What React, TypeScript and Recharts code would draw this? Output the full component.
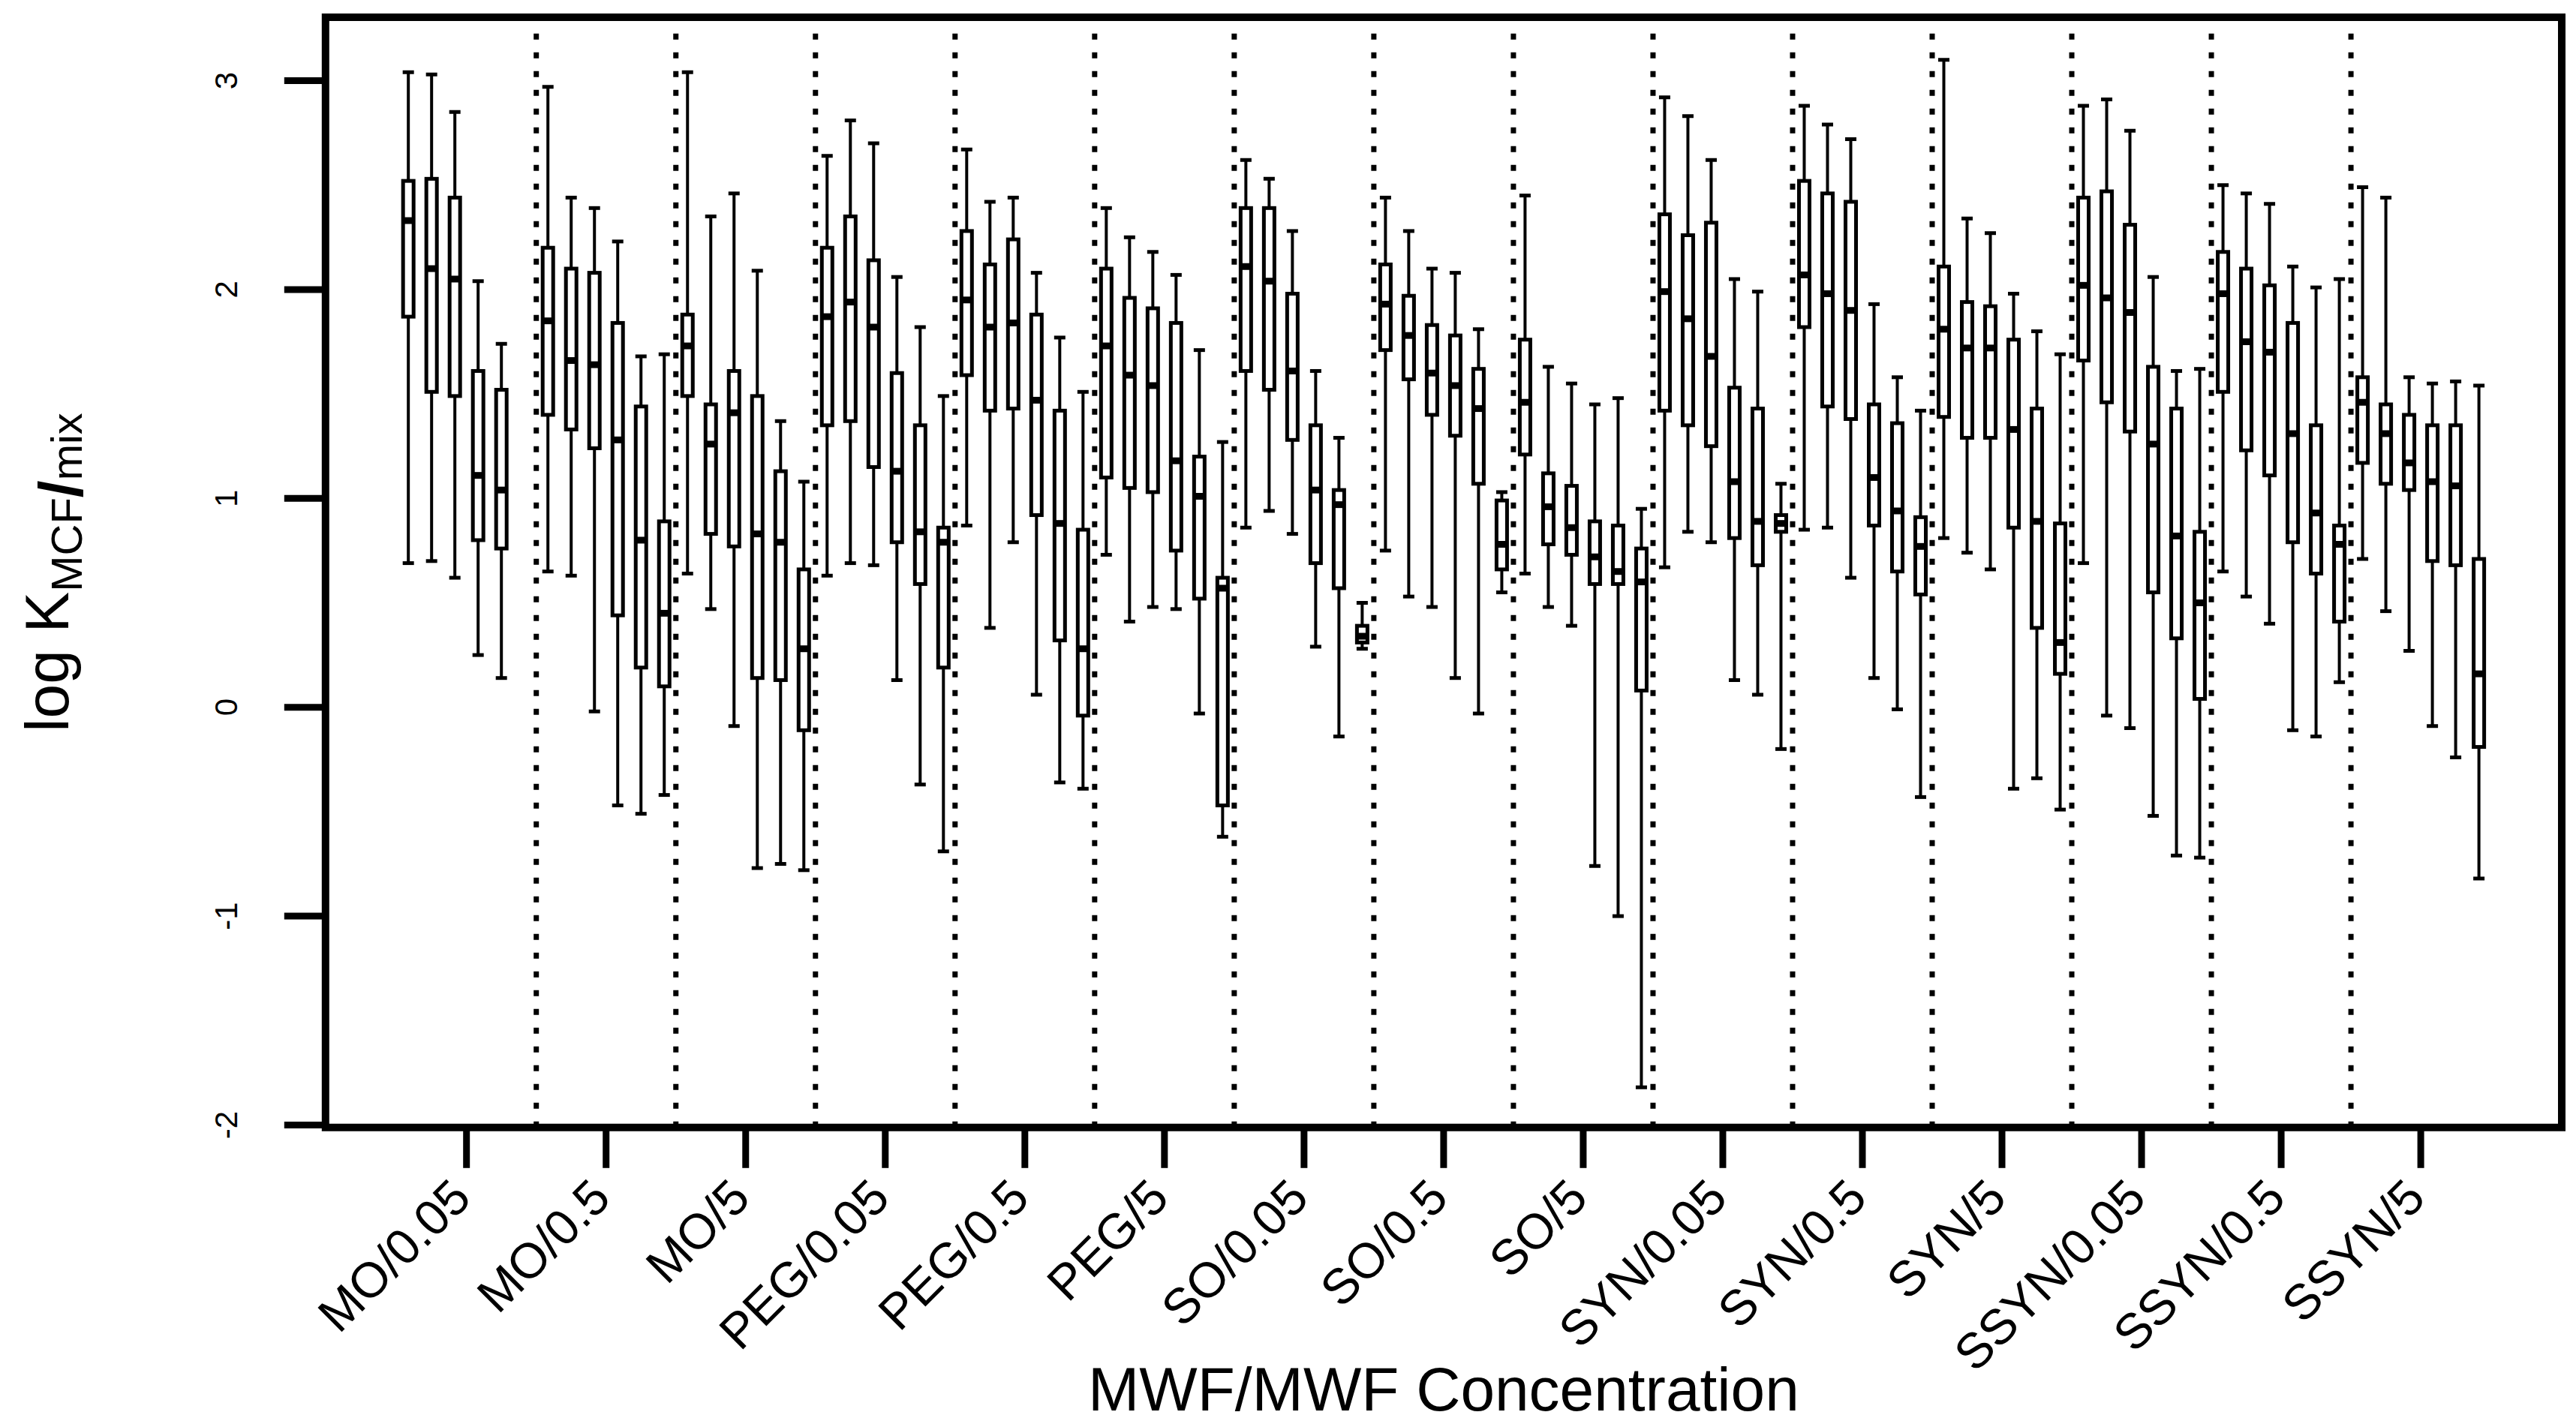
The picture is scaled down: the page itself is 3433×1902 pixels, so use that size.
import React from 'react';
import { ComposedChart, Bar, XAxis, YAxis, ReferenceLine, ReferenceArea } from 'recharts';

// ---- data -------------------------------------------------------------
const groups = [
  'MO/0.05', 'MO/0.5', 'MO/5',
  'PEG/0.05', 'PEG/0.5', 'PEG/5',
  'SO/0.05', 'SO/0.5', 'SO/5',
  'SYN/0.05', 'SYN/0.5', 'SYN/5',
  'SSYN/0.05', 'SSYN/0.5', 'SSYN/5',
];

// upper whisker end
const whiskerHigh: (number | null)[][] = [
  [3.04, 3.03, 2.85, 2.04, 1.74, null],
  [2.97, 2.44, 2.39, 2.23, 1.68, 1.69],
  [3.04, 2.35, 2.46, 2.09, 1.37, 1.08],
  [2.64, 2.81, 2.70, 2.06, 1.82, 1.49],
  [2.67, 2.42, 2.44, 2.08, 1.77, 1.51],
  [2.39, 2.25, 2.18, 2.07, 1.71, 1.27],
  [2.62, 2.53, 2.28, 1.61, 1.29, 0.50],
  [2.44, 2.28, 2.10, 2.08, 1.81, 1.03],
  [2.45, 1.63, 1.55, 1.45, 1.48, 0.95],
  [2.92, 2.83, 2.62, 2.05, 1.99, 1.07],
  [2.88, 2.79, 2.72, 1.93, 1.58, 1.42],
  [3.10, 2.34, 2.27, 1.98, 1.80, 1.69],
  [2.88, 2.91, 2.76, 2.06, 1.61, 1.62],
  [2.50, 2.46, 2.41, 2.11, 2.01, 2.05],
  [2.49, 2.44, 1.58, 1.55, 1.56, 1.54],
];

// upper quartile
const quartile3: (number | null)[][] = [
  [2.52, 2.53, 2.44, 1.61, 1.52, null],
  [2.20, 2.10, 2.08, 1.84, 1.44, 0.89],
  [1.88, 1.45, 1.61, 1.49, 1.13, 0.66],
  [2.20, 2.35, 2.14, 1.60, 1.35, 0.86],
  [2.28, 2.12, 2.24, 1.88, 1.42, 0.85],
  [2.10, 1.96, 1.91, 1.84, 1.20, 0.62],
  [2.39, 2.39, 1.98, 1.35, 1.04, 0.39],
  [2.12, 1.97, 1.83, 1.78, 1.62, 0.99],
  [1.76, 1.12, 1.06, 0.89, 0.87, 0.76],
  [2.36, 2.26, 2.32, 1.53, 1.43, 0.92],
  [2.52, 2.46, 2.42, 1.45, 1.36, 0.91],
  [2.11, 1.94, 1.92, 1.76, 1.43, 0.88],
  [2.44, 2.47, 2.31, 1.63, 1.43, 0.84],
  [2.18, 2.10, 2.02, 1.84, 1.35, 0.87],
  [1.58, 1.45, 1.40, 1.35, 1.35, 0.71],
];

// median
const medians: (number | null)[][] = [
  [2.33, 2.10, 2.05, 1.11, 1.04, null],
  [1.85, 1.66, 1.64, 1.28, 0.80, 0.45],
  [1.73, 1.26, 1.41, 0.83, 0.79, 0.28],
  [1.87, 1.94, 1.82, 1.13, 0.84, 0.79],
  [1.95, 1.82, 1.84, 1.47, 0.88, 0.28],
  [1.73, 1.59, 1.54, 1.18, 1.01, 0.57],
  [2.11, 2.04, 1.61, 1.04, 0.97, 0.34],
  [1.93, 1.78, 1.60, 1.54, 1.43, 0.78],
  [1.46, 0.96, 0.86, 0.72, 0.65, 0.60],
  [1.99, 1.86, 1.68, 1.08, 0.89, 0.88],
  [2.07, 1.98, 1.90, 1.10, 0.94, 0.77],
  [1.81, 1.72, 1.72, 1.33, 0.89, 0.31],
  [2.02, 1.96, 1.89, 1.26, 0.82, 0.50],
  [1.98, 1.75, 1.70, 1.31, 0.93, 0.78],
  [1.46, 1.31, 1.17, 1.08, 1.06, 0.16],
];

// lower quartile
const quartile1: (number | null)[][] = [
  [1.87, 1.51, 1.49, 0.80, 0.76, null],
  [1.40, 1.33, 1.24, 0.44, 0.19, 0.10],
  [1.49, 0.83, 0.77, 0.14, 0.13, -0.11],
  [1.35, 1.37, 1.15, 0.79, 0.59, 0.19],
  [1.59, 1.42, 1.43, 0.92, 0.32, -0.04],
  [1.10, 1.05, 1.03, 0.75, 0.52, -0.47],
  [1.61, 1.52, 1.28, 0.69, 0.57, 0.31],
  [1.71, 1.57, 1.40, 1.30, 1.07, 0.66],
  [1.21, 0.78, 0.73, 0.59, 0.59, 0.08],
  [1.42, 1.35, 1.25, 0.81, 0.68, 0.84],
  [1.82, 1.44, 1.38, 0.87, 0.65, 0.54],
  [1.39, 1.29, 1.29, 0.86, 0.38, 0.16],
  [1.66, 1.46, 1.32, 0.55, 0.33, 0.04],
  [1.51, 1.23, 1.11, 0.79, 0.64, 0.41],
  [1.17, 1.07, 1.04, 0.70, 0.68, -0.19],
];

// lower whisker end
const whiskerLow: (number | null)[][] = [
  [0.69, 0.70, 0.62, 0.25, 0.14, null],
  [0.65, 0.63, -0.02, -0.47, -0.51, -0.42],
  [0.64, 0.47, -0.09, -0.77, -0.75, -0.78],
  [0.63, 0.69, 0.68, 0.13, -0.37, -0.69],
  [0.87, 0.38, 0.79, 0.06, -0.36, -0.39],
  [0.73, 0.41, 0.48, 0.47, -0.03, -0.62],
  [0.86, 0.94, 0.83, 0.29, -0.14, 0.28],
  [0.75, 0.53, 0.48, 0.14, -0.03, 0.55],
  [0.64, 0.48, 0.39, -0.76, -1.00, -1.82],
  [0.67, 0.84, 0.79, 0.13, 0.06, -0.20],
  [0.85, 0.86, 0.62, 0.14, -0.01, -0.43],
  [0.81, 0.74, 0.66, -0.39, -0.34, -0.49],
  [0.69, -0.04, -0.10, -0.52, -0.71, -0.72],
  [0.65, 0.53, 0.40, -0.11, -0.14, 0.12],
  [0.71, 0.46, 0.27, -0.09, -0.24, -0.82],
];

const yTicks = [-2, -1, 0, 1, 2, 3];
const SLOTS = 6; // box slots per group on the x scale

// ---- derived table for the library ------------------------------------
type Row = { pos: number; lo: number; q1: number; med: number; q3: number; hi: number };
const rows: Row[] = [];
groups.forEach((_, gi) => {
  for (let b = 0; b < SLOTS; b++) {
    const hi = whiskerHigh[gi][b];
    if (hi == null) continue;
    rows.push({
      pos: gi * SLOTS + b + 1,
      lo: whiskerLow[gi][b] as number,
      q1: quartile1[gi][b] as number,
      med: medians[gi][b] as number,
      q3: quartile3[gi][b] as number,
      hi,
    });
  }
});
const groupTicks = groups.map((_, gi) => gi * SLOTS + (SLOTS + 1) / 2);
const separators = groups.slice(1).map((_, gi) => (gi + 1) * SLOTS + 0.5);
const labelAt = (v: number) => groups[Math.round((v - (SLOTS + 1) / 2) / SLOTS)] ?? '';

const xDomain: [number, number] = [-2.56, 93.56];
const yDomain: [number, number] = [-2.012, 3.3035];

const FONT = '"Liberation Sans", Arial, Helvetica, sans-serif';

// ---- shapes -----------------------------------------------------------
const BoxShape = (props: any) => {
  const { x, y, width, height, payload } = props;
  if (!payload || height == null) return null;
  const { lo, q1, med, q3, hi } = payload as Row;
  const k = height / (hi - lo);
  const py = (v: number) => y + (hi - v) * k;
  const cx = x + width / 2;
  const half = 7;
  const cap = 7.5;
  return (
    <g>
      <line x1={cx} x2={cx} y1={py(hi)} y2={py(q3)} stroke="#000" strokeWidth={4} />
      <line x1={cx} x2={cx} y1={py(q1)} y2={py(lo)} stroke="#000" strokeWidth={4} />
      <line x1={cx - cap} x2={cx + cap} y1={py(hi)} y2={py(hi)} stroke="#000" strokeWidth={5} />
      <line x1={cx - cap} x2={cx + cap} y1={py(lo)} y2={py(lo)} stroke="#000" strokeWidth={5} />
      <rect
        x={cx - half}
        y={py(q3)}
        width={half * 2}
        height={Math.max(py(q1) - py(q3), 0.5)}
        fill="#fff"
        stroke="#000"
        strokeWidth={5}
      />
      <line x1={cx - half} x2={cx + half} y1={py(med)} y2={py(med)} stroke="#000" strokeWidth={9} />
    </g>
  );
};

const XTick = (props: any) => {
  const { x, y, payload } = props;
  const bx = x + 9;
  const by = y + 43.2;
  return (
    <text
      x={bx}
      y={by}
      textAnchor="end"
      fontFamily={FONT}
      fontSize={66}
      fill="#000"
      transform={`rotate(-45 ${bx} ${by})`}
    >
      {labelAt(payload.value)}
    </text>
  );
};

const YTick = (props: any) => {
  const { x, y, payload } = props;
  const bx = x - 62.8;
  return (
    <text
      x={bx}
      y={y}
      textAnchor="middle"
      fontFamily={FONT}
      fontSize={42}
      fill="#000"
      transform={`rotate(-90 ${bx} ${y})`}
    >
      {String(payload.value)}
    </text>
  );
};

const XTitle = (props: any) => {
  const vb = props.viewBox || {};
  return (
    <text
      x={vb.x + vb.width / 2}
      y={vb.y + 377.2}
      textAnchor="middle"
      fontFamily={FONT}
      fontSize={82}
      fill="#000"
    >
      MWF/MWF Concentration
    </text>
  );
};

const YTitle = (props: any) => {
  const vb = props.viewBox || {};
  const tx = vb.x + 82.7;
  const ty = vb.y + vb.height / 2;
  return (
    <text
      transform={`translate(${tx} ${ty}) rotate(-90)`}
      textAnchor="middle"
      fontFamily={FONT}
      fontSize={82}
      fill="#000"
    >
      log K
      <tspan fontSize={58} dy={18}>MCF</tspan>
      <tspan fontSize={82} fontWeight="bold">/</tspan>
      <tspan fontSize={58}>mix</tspan>
    </text>
  );
};

export default function App() {
  return (
    <div style={{ position: 'absolute', left: 8, top: 8, width: 3425, height: 1894, background: '#fff' }}>
      <ComposedChart
        width={3425}
        height={1894}
        data={rows}
        margin={{ top: 15, right: 19, bottom: 0, left: 0 }}
      >
        <XAxis
          type="number"
          dataKey="pos"
          domain={xDomain}
          allowDataOverflow
          ticks={groupTicks}
          interval={0}
          height={399.2}
          axisLine={false}
          tickLine={{ stroke: '#000', strokeWidth: 9 }}
          tickSize={54}
          tickMargin={0}
          tick={<XTick />}
          label={(p: any) => <XTitle {...p} />}
        />
        <YAxis
          type="number"
          domain={yDomain}
          allowDataOverflow
          ticks={yTicks}
          interval={0}
          width={425.8}
          axisLine={false}
          tickLine={{ stroke: '#000', strokeWidth: 9 }}
          tickSize={55}
          tickMargin={0}
          tick={<YTick />}
          label={(p: any) => <YTitle {...p} />}
        />
        {separators.map((s) => (
          <ReferenceLine
            key={s}
            x={s}
            stroke="#000"
            strokeWidth={7}
            strokeDasharray="8 17"
            ifOverflow="extendDomain"
          />
        ))}
        <Bar
          dataKey={(d: Row) => [d.lo, d.hi]}
          barSize={25}
          shape={<BoxShape />}
          isAnimationActive={false}
        />
        <ReferenceArea
          x1={xDomain[0]}
          x2={xDomain[1]}
          y1={yDomain[0]}
          y2={yDomain[1]}
          fill="none"
          fillOpacity={0}
          stroke="#000"
          strokeWidth={10}
        />
      </ComposedChart>
    </div>
  );
}
